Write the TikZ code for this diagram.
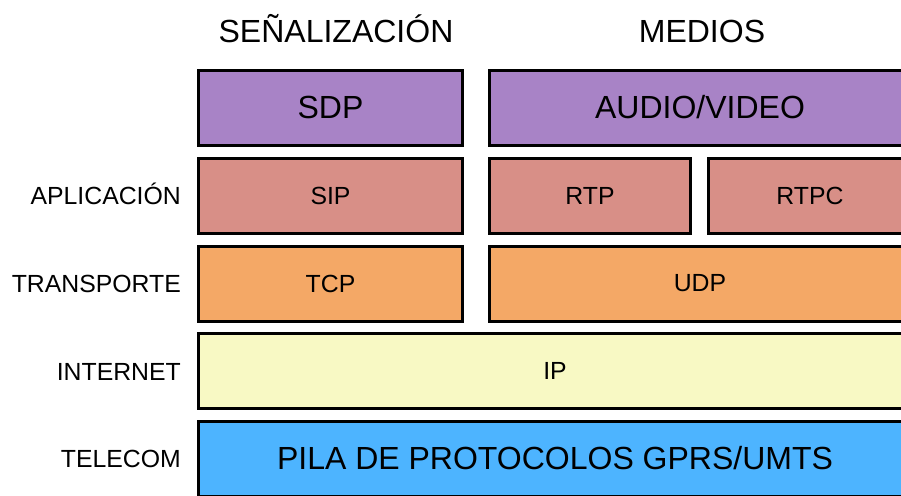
\documentclass[tikz,border=0pt]{standalone}
\usepackage{fontspec}
\setmainfont{Liberation Sans}
\usepackage{tikz}

\definecolor{sdpcol}{RGB}{168,131,198}
\definecolor{sipcol}{RGB}{216,143,135}
\definecolor{tcpcol}{RGB}{244,168,102}
\definecolor{ipcol}{RGB}{248,249,196}
\definecolor{gprscol}{RGB}{77,180,255}

\begin{document}
\begin{tikzpicture}[
                x=1pt, y=-1pt,
                layer/.style={draw=black, line width=3pt, rectangle, minimum height=75pt, inner sep=0pt},
                bigtext/.style={font=\fontsize{32}{36}\selectfont},
                smalltext/.style={font=\fontsize{24.8}{28}\selectfont},
                heading/.style={bigtext, anchor=base, inner sep=0pt},
                rowlabel/.style={smalltext, anchor=base east, inner sep=0pt}
            ]
                \clip (0,0) rectangle (901,495);
                \fill[white] (0,0) rectangle (901,495);
                % column headings
                \node[heading] (senal) at (336,42) {SEÑALIZACIÓN};
                \node[heading] (medios) at (702,42) {MEDIOS};
                % left column
                \node[layer, bigtext, fill=sdpcol, minimum width=264pt] (sdp) at (330.5,107.5) {SDP};
                \node[layer, smalltext, fill=sipcol, minimum width=264pt] (sip) at (330.5,195.5) {SIP};
                \node[layer, smalltext, fill=tcpcol, minimum width=264pt] (tcp) at (330.5,283.5) {TCP};
                % right column
                \node[layer, bigtext, fill=sdpcol, minimum width=422pt] (av) at (700,107.5) {AUDIO/VIDEO};
                \node[layer, smalltext, fill=sipcol, minimum width=201pt] (rtp) at (590,195.5) {RTP};
                \node[layer, smalltext, fill=sipcol, minimum width=203pt] (rtpc) at (810,195.5) {RTPC};
                \node[layer, smalltext, fill=tcpcol, minimum width=422pt] (udp) at (700,283.5) {UDP};
                % full rows
                \node[layer, smalltext, fill=ipcol, minimum width=713pt] (ip) at (555,371) {IP};
                \node[layer, bigtext, fill=gprscol, minimum width=713pt] (gprs) at (555,458.5) {PILA DE PROTOCOLOS GPRS/UMTS};
                % row labels
                \node[rowlabel] (aplic) at (181,204) {APLICACIÓN};
                \node[rowlabel] (transp) at (181,292) {TRANSPORTE};
                \node[rowlabel] (inet) at (181,380) {INTERNET};
                \node[rowlabel] (tele) at (181,467) {TELECOM};
            \end{tikzpicture}
\end{document}
